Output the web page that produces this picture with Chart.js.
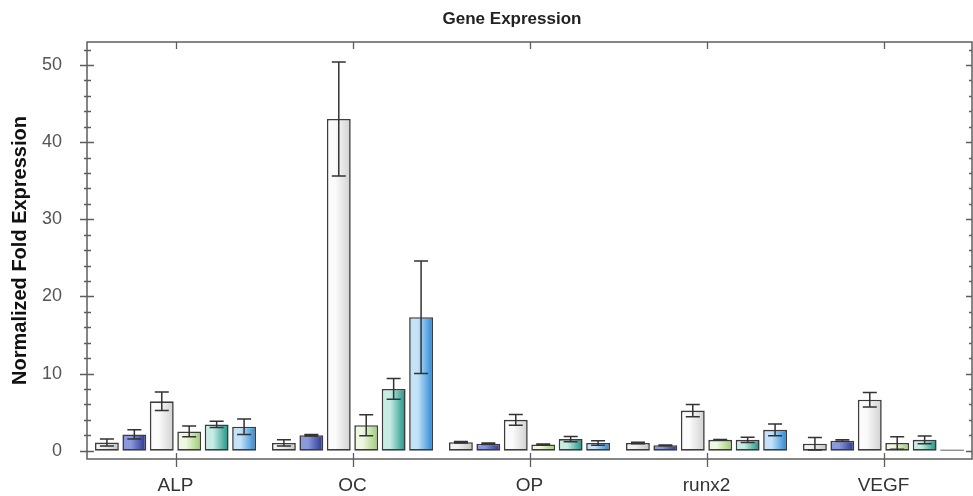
<!DOCTYPE html>
<html>
<head>
<meta charset="utf-8">
<script src="https://cdn.jsdelivr.net/npm/chart.js@4/dist/chart.umd.min.js"></script>
<style>
  html, body { margin: 0; padding: 0; background: #fff; }
  #wrap { width: 973px; height: 496px; }
</style>
</head>
<body>
<div id="wrap"><canvas id="chartGene" width="973" height="496"></canvas></div>
<script>
// 数据
var genes = ['ALP', 'OC', 'OP', 'runx2', 'VEGF'];
var seriesNames = ['S1', 'S2', 'S3', 'S4', 'S5', 'S6'];

// 每个系列在五个基因上的均值
var s1 = [1.05, 1.0, 1.1, 1.0, 0.9];
var s2 = [2.1, 2.0, 0.9, 0.7, 1.3];
var s3 = [6.4, 43.0, 4.0, 5.2, 6.6];
var s4 = [2.5, 3.3, 0.8, 1.4, 1.0];
var s5 = [3.4, 8.0, 1.5, 1.4, 1.4];
var s6 = [3.1, 17.3, 1.0, 2.7, 0.15];

// 误差
var e1 = [0.45, 0.4, 0.1, 0.1, 0.8];
var e2 = [0.6, 0.1, 0.1, 0.05, 0.1];
var e3 = [1.2, 7.4, 0.7, 0.8, 0.95];
var e4 = [0.7, 1.35, 0.05, 0.05, 0.8];
var e5 = [0.4, 1.35, 0.35, 0.35, 0.5];
var e6 = [1.0, 7.3, 0.3, 0.75, 0];

var yTicks = [0, 10, 20, 30, 40, 50];

// 渐变色 左 -> 右
var gradStops = [
    ['#f2f2f2', '#c4c4c4'],
    ['#8a98dc', '#26338f'],
    ['#fbfbfb', '#d0d0d0'],
    ['#eef7e2', '#9ccc72'],
    ['#c6ece4', '#1a9282'],
    ['#c4e2f8', '#2686d4']
];

var seriesData = [s1, s2, s3, s4, s5, s6];
var seriesErr = [e1, e2, e3, e4, e5, e6];

var datasets = seriesData.map(function (d, i) {
    return {
        label: seriesNames[i],
        data: d,
        errors: seriesErr[i],
        backgroundColor: gradStops[i][1],
        borderColor: '#3c3c3c',
        borderWidth: 1.6,
        borderSkipped: false,
        barPercentage: 0.87,
        categoryPercentage: 0.93
    };
});

// 柱子横向渐变
var gradientPlugin = {
    id: 'barGradient',
    beforeDatasetsDraw: function (chart) {
        var ctx = chart.ctx;
        chart.data.datasets.forEach(function (ds, di) {
            var meta = chart.getDatasetMeta(di);
            meta.data.forEach(function (el) {
                var g = ctx.createLinearGradient(el.x - el.width / 2, 0, el.x + el.width / 2, 0);
                g.addColorStop(0, gradStops[di][0]);
                g.addColorStop(0.35, gradStops[di][0]);
                g.addColorStop(1, gradStops[di][1]);
                el.options = Object.assign({}, el.options, { backgroundColor: g });
            });
        });
    }
};

// 误差线
var errorBarPlugin = {
    id: 'errorBars',
    afterDatasetsDraw: function (chart) {
        var ctx = chart.ctx;
        var y = chart.scales.y;
        ctx.save();
        ctx.strokeStyle = '#333';
        ctx.lineWidth = 1.5;
        chart.data.datasets.forEach(function (ds, di) {
            var meta = chart.getDatasetMeta(di);
            meta.data.forEach(function (el, i) {
                var err = ds.errors[i];
                if (!err) return;
                var top = y.getPixelForValue(ds.data[i] + err);
                var bot = y.getPixelForValue(ds.data[i] - err);
                var cap = 7;
                ctx.beginPath();
                ctx.moveTo(el.x, top); ctx.lineTo(el.x, bot);
                ctx.moveTo(el.x - cap, top); ctx.lineTo(el.x + cap, top);
                ctx.moveTo(el.x - cap, bot); ctx.lineTo(el.x + cap, bot);
                ctx.stroke();
            });
        });
        ctx.restore();
    }
};

// 边框、刻度、标题
var framePlugin = {
    id: 'frame',
    afterDraw: function (chart) {
        var ctx = chart.ctx;
        var a = chart.chartArea;
        var x = chart.scales.x;
        var y = chart.scales.y;
        ctx.save();
        ctx.strokeStyle = '#5e5e5e';
        ctx.lineWidth = 1.5;
        ctx.strokeRect(a.left, a.top, a.right - a.left, a.bottom - a.top);

        ctx.lineWidth = 1.3;
        ctx.beginPath();
        for (var v = 0; v <= 52; v += 2) {
            var py = Math.round(y.getPixelForValue(v)) + 0.5;
            var major = v % 10 === 0;
            ctx.moveTo(a.left - (major ? 7 : 3), py);
            ctx.lineTo(a.left + (major ? 7 : 4), py);
            ctx.moveTo(a.right, py);
            ctx.lineTo(a.right - (major ? 6 : 3), py);
        }
        for (var i = 0; i < genes.length; i++) {
            var px = Math.round(x.getPixelForValue(i)) + 0.5;
            ctx.moveTo(px, a.top);
            ctx.lineTo(px, a.top + 7);
            ctx.moveTo(px, a.bottom - 6);
            ctx.lineTo(px, a.bottom + 8);
        }
        ctx.stroke();

        ctx.fillStyle = '#222';
        ctx.font = 'bold 17px "Liberation Sans", Arial, sans-serif';
        ctx.textAlign = 'center';
        ctx.textBaseline = 'middle';
        ctx.fillText('Gene Expression', 512, 19);
        ctx.restore();
    }
};

var chart = new Chart(document.getElementById('chartGene').getContext('2d'), {
    type: 'bar',
    data: { labels: genes, datasets: datasets },
    options: {
        responsive: false,
        animation: false,
        layout: { padding: { top: 42, right: 1, left: 0, bottom: 0 } },
        plugins: {
            legend: { display: false },
            tooltip: { enabled: false },
            title: { display: false }
        },
        scales: {
            x: {
                grid: { display: false, drawTicks: false },
                border: { display: false },
                ticks: {
                    color: '#333',
                    padding: 15,
                    font: { family: '"Liberation Sans", Arial, sans-serif', size: 19 }
                },
                afterFit: function (s) { s.height = 37; }
            },
            y: {
                min: -1.08,
                max: 52.98,
                grid: { display: false, drawTicks: false },
                border: { display: false },
                afterBuildTicks: function (s) {
                    s.ticks = yTicks.map(function (v) { return { value: v }; });
                },
                ticks: {
                    color: '#555',
                    padding: 25,
                    font: { family: '"Liberation Sans", Arial, sans-serif', size: 18 }
                },
                title: {
                    display: true,
                    text: 'Normalized Fold Expression',
                    color: '#111',
                    padding: { top: 8, bottom: 0 },
                    font: { family: '"Liberation Sans", Arial, sans-serif', size: 20, weight: 'bold' }
                },
                afterFit: function (s) { s.width = 87; }
            }
        }
    },
    plugins: [gradientPlugin, errorBarPlugin, framePlugin]
});
</script>
</body>
</html>
